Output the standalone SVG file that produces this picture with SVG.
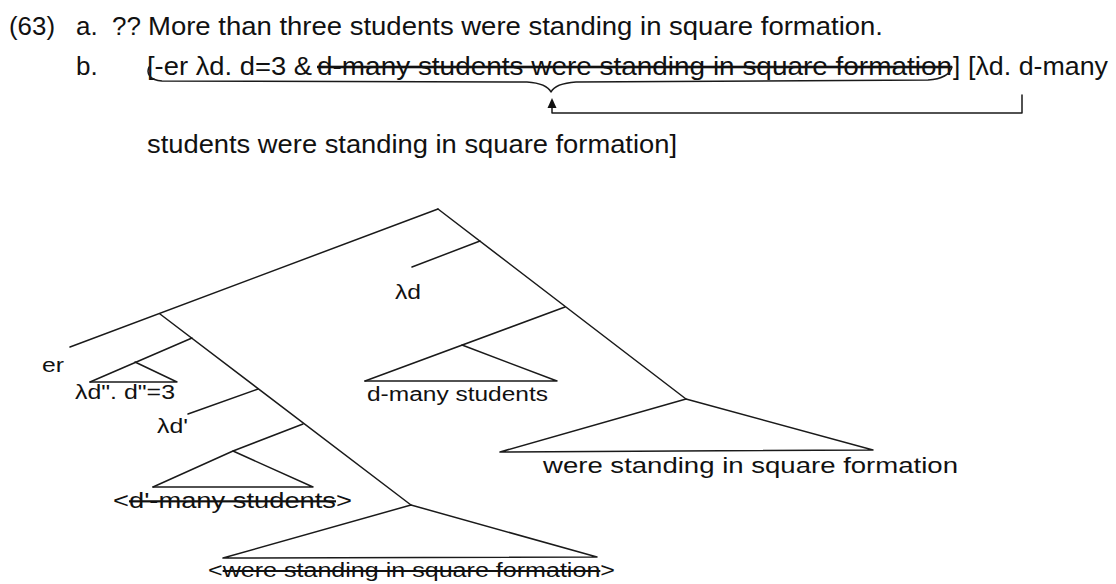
<svg xmlns="http://www.w3.org/2000/svg" width="1116" height="584" viewBox="0 0 1116 584">
<style>
text{font-family:"Liberation Sans",Arial,sans-serif;fill:#111;}
.h{font-size:26px;}
.t{font-size:20px;}
.b{font-size:22px;}
.s{text-decoration:line-through;}
.ln{stroke:#1a1a1a;stroke-width:1.5;fill:none;stroke-linejoin:round;stroke-linecap:round;}
</style>
<rect width="1116" height="584" fill="#fff"/>
<g id="example-text">
<text class="h" x="9" y="35" textLength="46" lengthAdjust="spacingAndGlyphs">(63)</text>
<text class="h" x="76" y="35">a.</text>
<text class="h" x="112" y="35">??</text>
<text class="h" x="148" y="35" textLength="735" lengthAdjust="spacingAndGlyphs">More than three students were standing in square formation.</text>
<text class="h" x="76" y="75">b.</text>
<text class="h" x="147" y="75" textLength="165" lengthAdjust="spacingAndGlyphs">[-er λd. d=3 &amp;</text>
<text class="h s" x="317" y="75" textLength="635" lengthAdjust="spacingAndGlyphs">d-many students were standing in square formation</text>
<text class="h" x="953" y="75">]</text>
<text class="h" x="968" y="75" textLength="140" lengthAdjust="spacingAndGlyphs">[λd. d-many</text>
<text class="h" x="147" y="153" textLength="530" lengthAdjust="spacingAndGlyphs">students were standing in square formation]</text>
</g>
<g id="brace-arrow">
<path class="ln" d="M149,67 C146,74 150,80 162,81 L527,82 C541,83 548,86 551,92 C554,86 562,83 576,82 L928,80 C942,79 950,74 952,67"/>
<path class="ln" d="M552,106 L552,113 L1022,113 L1022,95"/>
<polygon points="552,98 547.5,108 556.5,108" fill="#111"/>
</g>
<g id="connectors">
<path class="ln" d="M438,209 L70,347"/>
<path class="ln" d="M438,209 L686,399"/>
<path class="ln" d="M480,241 L412,267"/>
<path class="ln" d="M565,307 L365,381"/>
<path class="ln" d="M160,314 L411,505"/>
<path class="ln" d="M192,338 L90,382"/>
<path class="ln" d="M258,389 L188,414"/>
<path class="ln" d="M303,424 L233,451 L153,487"/>
</g>
<g id="node-er"><text class="t" x="42" y="372" textLength="22" lengthAdjust="spacingAndGlyphs">er</text></g>
<g id="node-lambda-d"><text class="t" x="395" y="299" textLength="26" lengthAdjust="spacingAndGlyphs">λd</text></g>
<g id="node-d-many-students">
<path class="ln" d="M462,345 L557,381 L365,381"/>
<text class="t" x="367" y="401" textLength="181" lengthAdjust="spacingAndGlyphs">d-many students</text>
</g>
<g id="node-lambda-d2">
<path class="ln" d="M135,362 L177,382 L90,382"/>
<text class="t" x="75" y="399" textLength="100" lengthAdjust="spacingAndGlyphs">λd". d"=3</text>
</g>
<g id="node-lambda-d1"><text class="t" x="157" y="433" textLength="31" lengthAdjust="spacingAndGlyphs">λd'</text></g>
<g id="node-d1-many-students">
<path class="ln" d="M233,451 L313,487 L153,487"/>
<text class="b" x="113" y="508" textLength="239" lengthAdjust="spacingAndGlyphs">&lt;<tspan class="s">d'-many students</tspan>&gt;</text>
</g>
<g id="node-vp">
<path class="ln" d="M686,399 L500,452 L873,450 Z"/>
<text class="b" x="543" y="473" textLength="415" lengthAdjust="spacingAndGlyphs">were standing in square formation</text>
</g>
<g id="node-vp-copy">
<path class="ln" d="M411,505 L223,558 L597,557 Z"/>
<text class="t" x="208" y="577" textLength="407" lengthAdjust="spacingAndGlyphs">&lt;<tspan class="s">were standing in square formation</tspan>&gt;</text>
</g>
</svg>
